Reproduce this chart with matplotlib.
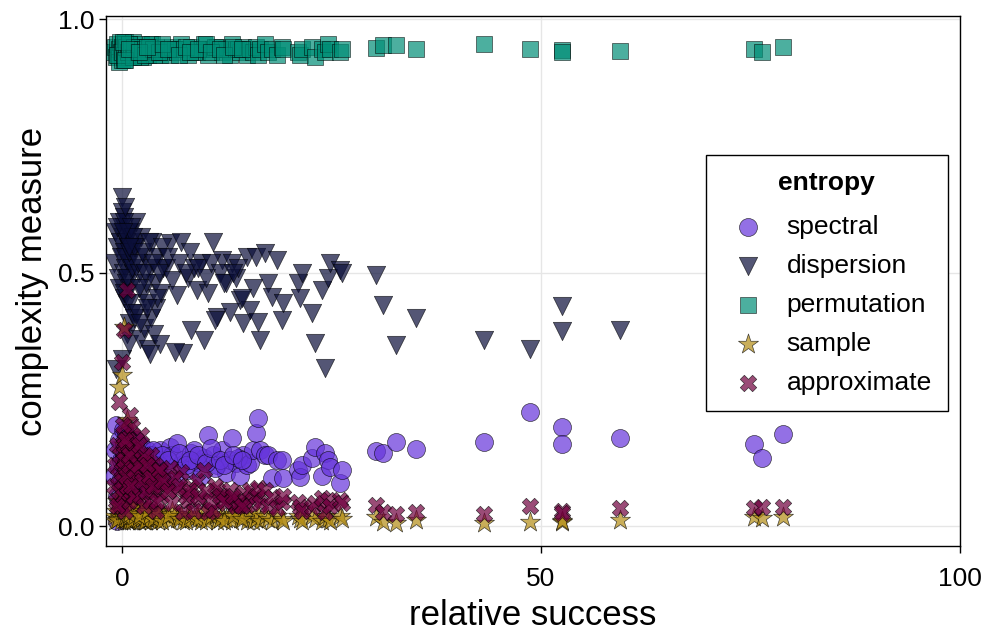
import matplotlib
matplotlib.use("Agg")
import matplotlib.pyplot as plt

plt.rcParams['font.family'] = ['Liberation Sans', 'DejaVu Sans']

# relative success (shared by every entropy measure)
x_near0 = [-0.9, -0.8, -0.7, -0.6, -0.5, -0.4, -0.3, -0.2, -0.1, 0.0,
           0.0, 0.1, 0.1, 0.2, 0.2, 0.3, 0.3, 0.4, 0.5, 0.5,
           0.6, 0.7, 0.8, 0.9, 1.0, 1.0, 1.1, 1.2, 1.3, 1.4,
           -0.6, 0.6, 0.0, 0.2, 0.4, 0.6, 0.8, 1.0, 1.2, 1.5]
x_low = [1.6, 1.8, 2.0, 2.1, 2.3, 2.5, 2.6, 2.8, 3.0, 3.1,
         3.3, 3.5, 3.6, 3.8, 4.0, 4.1, 4.3, 4.5, 4.7, 4.9,
         1.7, 2.2, 2.9, 3.4, 4.2]
x_mid = [5.2, 5.7, 6.0, 6.6, 7.0, 7.3, 7.9, 8.3, 8.9, 9.4,
         9.8, 10.3, 10.9, 11.4, 11.9, 12.4, 12.9, 13.1, 13.6, 14.1,
         14.5, 14.9, 6.3, 8.6, 11.1, 13.9]
x_high = [15.3, 15.6, 16.0, 16.2, 16.5, 17.1, 17.4, 17.9, 18.5, 19.1,
          19.2, 21.0, 21.2, 21.5, 22.7, 23.0, 23.9, 24.2, 24.6, 24.8,
          26.0, 26.3]
x_far = [30.3, 31.1, 32.7, 35.1, 43.2, 48.7, 52.5, 52.5, 59.4, 75.4, 76.4, 78.9]
x_extra = [0.3, 0.5, 0.7, 0.9, 1.1, 1.3, 1.5, 1.9, 2.4, 2.7,
           3.2, 3.7, 4.4, 4.8, 5.5, 6.8, 7.6, 8.1, 9.1, 10.0,
           10.6, 11.7, 12.2, 13.3, 14.3, 0.1, 0.4, 0.8, 2.0, 3.0]

spectral = [0.10, 0.15, 0.20, 0.06, 0.12, 0.02, 0.17, 0.09, 0.13, 0.05,
            0.11, 0.19, 0.08, 0.14, 0.03, 0.16, 0.10, 0.07, 0.12, 0.18,
            0.09, 0.13, 0.04, 0.15, 0.11, 0.08, 0.14, 0.06, 0.12, 0.10,
            0.01, 0.16, 0.09, 0.13, 0.07, 0.11, 0.15, 0.08, 0.12, 0.14,
            0.12, 0.09, 0.14, 0.10, 0.16, 0.08, 0.13, 0.11, 0.15, 0.09,
            0.12, 0.10, 0.14, 0.11, 0.13, 0.09, 0.12, 0.15, 0.10, 0.13,
            0.17, 0.07, 0.11, 0.14, 0.12,
            0.12, 0.156, 0.14, 0.164, 0.12, 0.13, 0.11, 0.145, 0.126, 0.10,
            0.135, 0.18, 0.14, 0.12, 0.15, 0.105, 0.13, 0.174, 0.125, 0.10,
            0.14, 0.12, 0.09, 0.15, 0.115, 0.135,
            0.124, 0.15, 0.183, 0.213, 0.15, 0.14, 0.14, 0.095, 0.13, 0.13,
            0.095, 0.11, 0.097, 0.12, 0.134, 0.156, 0.10, 0.144, 0.13, 0.116,
            0.085, 0.11,
            0.149, 0.144, 0.166, 0.152, 0.166, 0.225, 0.196, 0.162, 0.174, 0.162, 0.134, 0.181,
            0.14, 0.12, 0.16, 0.10, 0.13, 0.15, 0.11, 0.14, 0.12, 0.10,
            0.13, 0.15, 0.12, 0.14, 0.13, 0.145, 0.12, 0.13, 0.14, 0.125,
            0.155, 0.13, 0.12, 0.14, 0.13, 0.08, 0.12, 0.10, 0.13, 0.11]

dispersion = [0.52, 0.58, 0.31, 0.55, 0.49, 0.60, 0.47, 0.56, 0.53, 0.649,
              0.62, 0.57, 0.50, 0.59, 0.45, 0.54, 0.61, 0.51, 0.48, 0.57,
              0.44, 0.55, 0.52, 0.40, 0.58, 0.47, 0.53, 0.42, 0.50, 0.56,
              0.59, 0.38, 0.33, 0.46, 0.53, 0.49, 0.36, 0.44, 0.51, 0.41,
              0.55, 0.42, 0.50, 0.37, 0.57, 0.46, 0.39, 0.53, 0.44, 0.35,
              0.51, 0.41, 0.56, 0.38, 0.48, 0.43, 0.53, 0.36, 0.46, 0.51,
              0.60, 0.40, 0.48, 0.34, 0.45,
              0.51, 0.558, 0.485, 0.456, 0.56, 0.341, 0.49, 0.387, 0.465, 0.519,
              0.367, 0.46, 0.56, 0.412, 0.525, 0.48, 0.422, 0.52, 0.49, 0.446,
              0.40, 0.53, 0.343, 0.509, 0.406, 0.51,
              0.426, 0.47, 0.53, 0.402, 0.367, 0.538, 0.479, 0.452, 0.525, 0.406,
              0.44, 0.479, 0.45, 0.50, 0.42, 0.361, 0.465, 0.312, 0.49, 0.519,
              0.505, 0.50,
              0.495, 0.436, 0.357, 0.41, 0.367, 0.349, 0.434, 0.385, 0.387, 0.41, 0.45, 0.43,
              0.60, 0.56, 0.58, 0.54, 0.59, 0.57, 0.55, 0.52, 0.54, 0.50,
              0.56, 0.52, 0.50, 0.55, 0.53, 0.52, 0.50, 0.54, 0.51, 0.49,
              0.52, 0.50, 0.48, 0.50, 0.45, 0.58, 0.63, 0.55, 0.47, 0.43]

permutation = [0.935, 0.945, 0.925, 0.950, 0.930, 0.940, 0.915, 0.955, 0.935, 0.945,
               0.920, 0.940, 0.950, 0.930, 0.945, 0.935, 0.925, 0.955, 0.940, 0.930,
               0.945, 0.935, 0.950, 0.925, 0.940, 0.930, 0.945, 0.935, 0.955, 0.940,
               0.930, 0.945, 0.935, 0.920, 0.950, 0.940, 0.930, 0.945, 0.935, 0.940,
               0.940, 0.930, 0.945, 0.935, 0.950, 0.925, 0.940, 0.935, 0.945, 0.930,
               0.940, 0.935, 0.950, 0.930, 0.940, 0.945, 0.935, 0.930, 0.940, 0.935,
               0.945, 0.925, 0.940, 0.950, 0.935,
               0.94, 0.93, 0.945, 0.935, 0.95, 0.94, 0.93, 0.945, 0.935, 0.94,
               0.95, 0.93, 0.94, 0.945, 0.935, 0.94, 0.93, 0.95, 0.94, 0.935,
               0.945, 0.93, 0.94, 0.935, 0.945, 0.94,
               0.94, 0.935, 0.945, 0.93, 0.94, 0.95, 0.935, 0.94, 0.93, 0.945,
               0.94, 0.935, 0.93, 0.94, 0.945, 0.925, 0.94, 0.935, 0.95, 0.94,
               0.935, 0.94,
               0.943, 0.949, 0.949, 0.941, 0.951, 0.941, 0.939, 0.936, 0.937, 0.941, 0.935, 0.945,
               0.93, 0.945, 0.935, 0.95, 0.94, 0.925, 0.945, 0.935, 0.94, 0.93,
               0.945, 0.94, 0.935, 0.95, 0.94, 0.93, 0.945, 0.935, 0.94, 0.95,
               0.935, 0.94, 0.93, 0.945, 0.94, 0.955, 0.92, 0.94, 0.935, 0.945]

sample = [0.02, 0.01, 0.03, 0.05, 0.015, 0.274, 0.02, 0.04, 0.01, 0.298,
          0.03, 0.02, 0.06, 0.01, 0.392, 0.025, 0.04, 0.015, 0.08, 0.02,
          0.03, 0.01, 0.05, 0.02, 0.10, 0.015, 0.03, 0.04, 0.01, 0.02,
          0.012, 0.21, 0.03, 0.16, 0.02, 0.05, 0.01, 0.03, 0.02, 0.04,
          0.02, 0.03, 0.01, 0.04, 0.015, 0.025, 0.01, 0.03, 0.02, 0.015,
          0.03, 0.01, 0.02, 0.025, 0.015, 0.03, 0.01, 0.02, 0.015, 0.025,
          0.05, 0.02, 0.01, 0.03, 0.02,
          0.02, 0.01, 0.03, 0.015, 0.02, 0.01, 0.025, 0.015, 0.02, 0.01,
          0.03, 0.015, 0.02, 0.01, 0.025, 0.015, 0.02, 0.01, 0.03, 0.015,
          0.02, 0.01, 0.025, 0.015, 0.02, 0.03,
          0.02, 0.01, 0.015, 0.025, 0.01, 0.02, 0.015, 0.01, 0.02, 0.015,
          0.01, 0.02, 0.015, 0.01, 0.02, 0.015, 0.01, 0.02, 0.015, 0.01,
          0.02, 0.015,
          0.018, 0.008, 0.006, 0.012, 0.006, 0.008, 0.008, 0.010, 0.012, 0.018, 0.016, 0.018,
          0.03, 0.015, 0.04, 0.02, 0.01, 0.035, 0.02, 0.015, 0.03, 0.01,
          0.02, 0.015, 0.025, 0.01, 0.02, 0.015, 0.01, 0.02, 0.015, 0.01,
          0.02, 0.015, 0.01, 0.02, 0.015, 0.07, 0.045, 0.025, 0.02, 0.03]

approximate = [0.08, 0.12, 0.05, 0.16, 0.10, 0.245, 0.07, 0.14, 0.04, 0.323,
               0.11, 0.18, 0.06, 0.13, 0.387, 0.09, 0.15, 0.03, 0.17, 0.12,
               0.08, 0.19, 0.05, 0.14, 0.219, 0.10, 0.07, 0.13, 0.06, 0.11,
               0.04, 0.465, 0.09, 0.16, 0.12, 0.08, 0.14, 0.10, 0.195, 0.06,
               0.15, 0.09, 0.12, 0.06, 0.18, 0.10, 0.04, 0.13, 0.08, 0.11,
               0.05, 0.14, 0.07, 0.10, 0.12, 0.03, 0.09, 0.11, 0.06, 0.08,
               0.17, 0.13, 0.07, 0.10, 0.05,
               0.085, 0.114, 0.045, 0.071, 0.106, 0.028, 0.051, 0.077, 0.09, 0.051,
               0.11, 0.028, 0.032, 0.071, 0.06, 0.045, 0.071, 0.055, 0.04, 0.041,
               0.065, 0.041, 0.095, 0.03, 0.08, 0.05,
               0.071, 0.051, 0.06, 0.075, 0.045, 0.071, 0.04, 0.057, 0.035, 0.047,
               0.06, 0.047, 0.037, 0.03, 0.037, 0.045, 0.055, 0.028, 0.051, 0.04,
               0.051, 0.045,
               0.041, 0.028, 0.025, 0.028, 0.025, 0.039, 0.030, 0.026, 0.035, 0.035, 0.037, 0.037,
               0.13, 0.10, 0.16, 0.12, 0.08, 0.15, 0.11, 0.12, 0.09, 0.14,
               0.10, 0.08, 0.11, 0.09, 0.07, 0.08, 0.06, 0.07, 0.06, 0.07,
               0.05, 0.06, 0.05, 0.06, 0.04, 0.20, 0.17, 0.14, 0.16, 0.12]

success = x_near0 + x_low + x_mid + x_high + x_far + x_extra

series = [
    ('spectral', spectral, 'o', '#6533db', 168),
    ('dispersion', dispersion, 'v', '#0b0f3a', 175),
    ('permutation', permutation, 's', '#008e76', 133),
    ('sample', sample, '*', '#b38c14', 230),
    ('approximate', approximate, 'X', '#6f003e', 140),
]

fig = plt.figure(figsize=(10, 6.33), dpi=100)
ax = fig.add_axes([0.106, 0.1374, 0.854, 0.8373])

for name, vals, mk, col, size in series:
    ax.scatter(success, vals, s=size, marker=mk, color=col, alpha=0.7,
               edgecolors='black', linewidths=0.5, label=name, zorder=3)

ax.set_xlim(-1.9, 100)
ax.set_ylim(-0.039, 1.006)
ax.set_xticks([0, 50, 100])
ax.set_yticks([0.0, 0.5, 1.0])
ax.set_yticklabels(['0.0', '0.5', '1.0'])
ax.grid(True, color='#e6e6e6', linewidth=1, zorder=0)
ax.set_axisbelow(True)
for sp in ax.spines.values():
    sp.set_linewidth(1)
    sp.set_color('black')
ax.tick_params(labelsize=19, length=5, width=1, direction='out')
ax.tick_params(axis='x', pad=10)
ax.set_xlabel('relative success', fontsize=25, labelpad=6)
ax.set_ylabel('complexity measure', fontsize=25, labelpad=6)

leg = ax.legend(title='entropy', loc='upper left', bbox_to_anchor=(0.7026, 0.738),
                fontsize=19, title_fontproperties={'weight': 'bold', 'size': 19},
                frameon=True, fancybox=False, edgecolor='black', framealpha=1,
                borderpad=0.6, labelspacing=0.57, handlelength=2.0,
                handletextpad=0.45, borderaxespad=0)
leg.get_frame().set_linewidth(1)
leg.set_zorder(5)
# a bit more room under the bold title
leg._legend_box.sep = 14.5

fig.savefig('out.png', dpi=100)
